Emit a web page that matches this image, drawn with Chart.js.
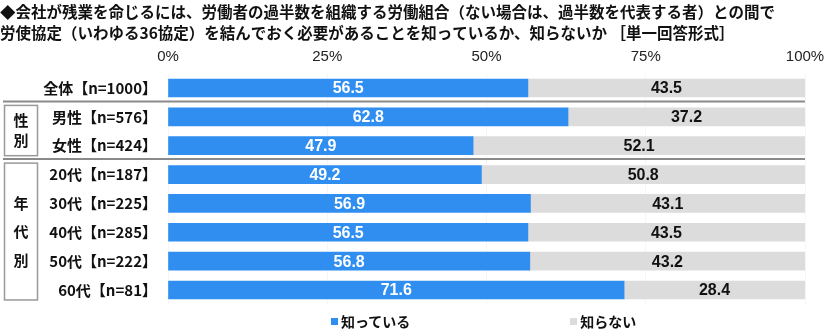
<!DOCTYPE html>
<html lang="ja">
<head>
<meta charset="utf-8">
<script src="https://cdn.jsdelivr.net/npm/chart.js@4/dist/chart.umd.min.js"></script>
<style>
  html, body { margin: 0; padding: 0; background: #fff; }
  #wrap { position: relative; width: 840px; height: 333px; }
  #legend {
    position: absolute; left: 331px; top: 311px;
    display: flex; gap: 160px;
    font: bold 14px "Noto Sans CJK JP", sans-serif; color: #111;
  }
  #legend .item { display: flex; align-items: center; }
  #legend .sw { width: 7px; height: 7px; margin-right: 3px; }
</style>
</head>
<body>
<div id="wrap">
  <canvas id="chart" width="840" height="333"></canvas>
  <div id="legend"></div>
</div>
<script>
// --- DATA ---
const titleLines = [
  '◆会社が残業を命じるには、労働者の過半数を組織する労働組合（ない場合は、過半数を代表する者）との間で',
  '労使協定（いわゆる36協定）を結んでおく必要があることを知っているか、知らないか ［単一回答形式］'
];
const categories = ['全体【n=1000】', '男性【n=576】', '女性【n=424】', '20代【n=187】',
  '30代【n=225】', '40代【n=285】', '50代【n=222】', '60代【n=81】'];
const knowValues = [56.5, 62.8, 47.9, 49.2, 56.9, 56.5, 56.8, 71.6];
const dontKnowValues = [43.5, 37.2, 52.1, 50.8, 43.1, 43.5, 43.2, 28.4];
const seriesNames = ['知っている', '知らない'];
const xTicks = [0, 25, 50, 75, 100];
// group label -> [first row, last row]
const groupNames = ['性別', '年代別'];
const groupRows = [[1, 2], [3, 7]];

const JP = '"Noto Sans CJK JP", sans-serif';
const colors = ['#2f8ef0', '#dcdcdc'];

// --- PLUGINS ---
const valueLabels = {
  id: 'valueLabels',
  afterDatasetsDraw(chart) {
    const ctx = chart.ctx;
    ctx.save();
    ctx.font = 'bold 16px "Liberation Sans", Arial, sans-serif';
    ctx.textAlign = 'center';
    ctx.textBaseline = 'middle';
    chart.data.datasets.forEach((ds, di) => {
      chart.getDatasetMeta(di).data.forEach((bar, i) => {
        ctx.fillStyle = di === 0 ? '#fff' : '#111';
        ctx.fillText(ds.data[i].toFixed(1), (bar.x + bar.base) / 2, bar.y + 1);
      });
    });
    ctx.restore();
  }
};

const groupFrames = {
  id: 'groupFrames',
  afterDraw(chart) {
    const ctx = chart.ctx;
    const y = chart.scales.y;
    const right = chart.chartArea.right;
    ctx.save();
    groupRows.forEach(([first, last], g) => {
      // separator above each group
      const sepY = (y.getPixelForValue(first - 1) + y.getPixelForValue(first)) / 2 - 1;
      ctx.strokeStyle = '#8a8a8a';
      ctx.lineWidth = 2;
      ctx.beginPath();
      ctx.moveTo(3, sepY);
      ctx.lineTo(right, sepY);
      ctx.stroke();

      // box with the vertical group label
      const top = sepY + 4;
      const bottom = y.getPixelForValue(last) + 10;
      ctx.strokeStyle = '#999';
      ctx.lineWidth = 1.5;
      ctx.strokeRect(4.5, top, 33, bottom - top);

      const chars = [...groupNames[g]];
      const step = chars.length > 2 ? 28.5 : 20;
      const mid = (top + bottom) / 2;
      ctx.fillStyle = '#111';
      ctx.font = 'bold 15px ' + JP;
      ctx.textAlign = 'center';
      ctx.textBaseline = 'middle';
      chars.forEach((c, k) => {
        ctx.fillText(c, 21, mid + (k - (chars.length - 1) / 2) * step);
      });
    });
    ctx.restore();
  }
};

// --- CHART ---
const chart = new Chart(document.getElementById('chart'), {
  type: 'bar',
  data: {
    labels: categories,
    datasets: [
      { label: seriesNames[0], data: knowValues, backgroundColor: colors[0] },
      { label: seriesNames[1], data: dontKnowValues, backgroundColor: colors[1] }
    ]
  },
  options: {
    indexAxis: 'y',
    responsive: false,
    animation: false,
    datasets: { bar: { barThickness: 18 } },
    layout: { padding: { left: 0, right: 35, top: 0, bottom: 28.6 } },
    scales: {
      x: {
        position: 'top',
        stacked: true,
        min: 0,
        max: 100,
        afterBuildTicks: (scale) => { scale.ticks = xTicks.map(v => ({ value: v })); },
        afterFit: (scale) => { scale.height = 29.7; },
        grid: { color: '#f6f6f6', drawTicks: false },
        border: { display: false },
        ticks: {
          padding: 8,
          color: '#222',
          font: { family: '"Liberation Sans", Arial, sans-serif', size: 15 },
          callback: (v) => v + '%'
        }
      },
      y: {
        stacked: true,
        afterFit: (scale) => { scale.width = 168; },
        grid: { display: false },
        border: { display: false },
        ticks: {
          padding: 3,
          color: '#111',
          font: { family: JP, size: 15, weight: 'bold' }
        }
      }
    },
    plugins: {
      legend: { display: false },
      tooltip: { enabled: false },
      title: {
        display: true,
        text: titleLines,
        align: 'start',
        color: '#111',
        font: { family: JP, size: 15.5, weight: 'bold', lineHeight: 1.35 },
        padding: { top: 2, bottom: 0 }
      }
    }
  },
  plugins: [valueLabels, groupFrames]
});

// --- LEGEND ---
const legend = document.getElementById('legend');
chart.data.datasets.forEach((ds) => {
  const item = document.createElement('div');
  item.className = 'item';
  item.innerHTML = `<span class="sw" style="background:${ds.backgroundColor}"></span>${ds.label}`;
  legend.appendChild(item);
});
</script>
</body>
</html>
